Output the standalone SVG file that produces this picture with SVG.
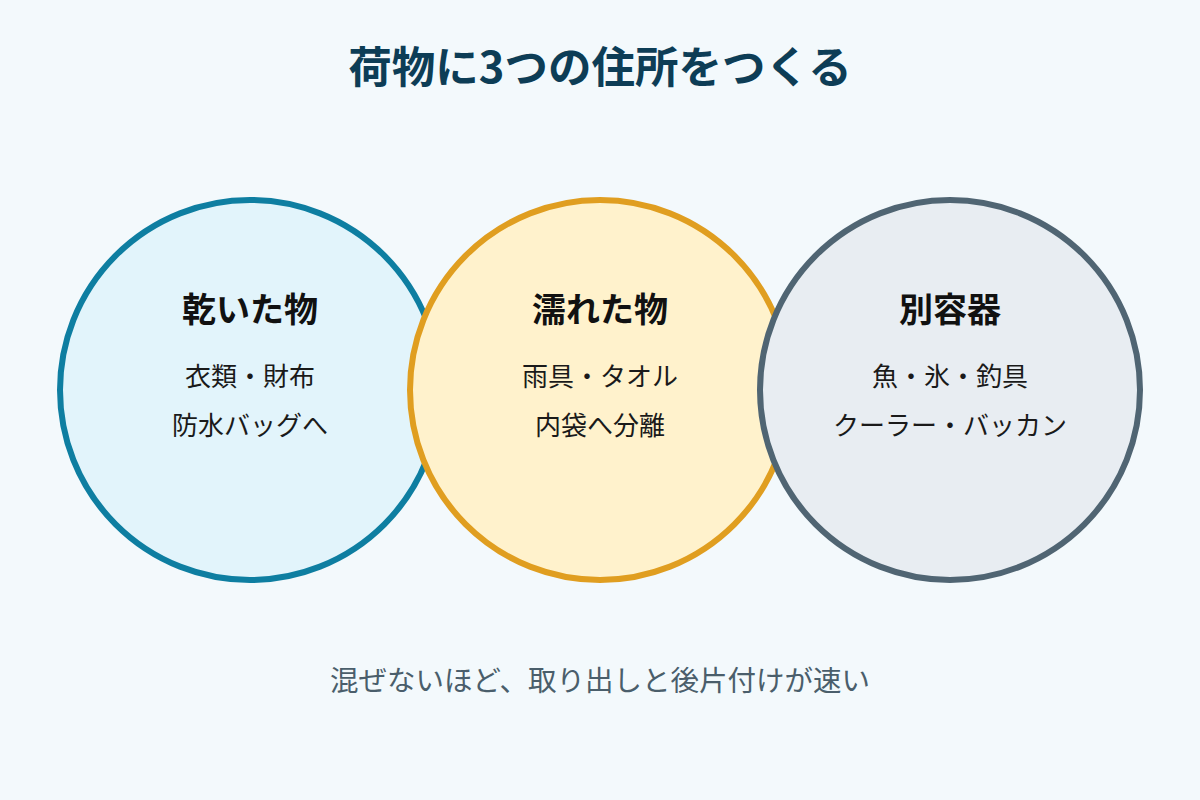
<svg xmlns="http://www.w3.org/2000/svg" width="1200" height="800" viewBox="0 0 1200 800">
<style>
text{font-family:"Noto Sans CJK JP","Noto Sans",sans-serif;text-anchor:middle}
.t{font-size:43.5px;font-weight:700;fill:#0d3d56}
.h{font-size:34px;font-weight:700;fill:#111}
.b{font-size:26px;fill:#1a1a1a}
.s{font-size:28.5px;fill:#4a5e6b}
.c{stroke-width:6}
</style>
<rect width="1200" height="800" fill="#f3f9fc"/>
<text class="t" x="600" y="83">荷物に3つの住所をつくる</text>
<g id="dry">
<circle class="c" cx="250" cy="390" r="190" fill="#e2f4fb" stroke="#0e7ea1"/>
<text class="h" x="250" y="322">乾いた物</text>
<text class="b" x="250" y="386">衣類・財布</text>
<text class="b" x="250" y="435">防水バッグへ</text>
</g>
<g id="wet">
<circle class="c" cx="600" cy="390" r="190" fill="#fff2cc" stroke="#e09e20"/>
<text class="h" x="600" y="322">濡れた物</text>
<text class="b" x="600" y="386">雨具・タオル</text>
<text class="b" x="600" y="435">内袋へ分離</text>
</g>
<g id="separate">
<circle class="c" cx="950" cy="390" r="190" fill="#e8edf2" stroke="#506573"/>
<text class="h" x="950" y="322">別容器</text>
<text class="b" x="950" y="386">魚・氷・釣具</text>
<text class="b" x="950" y="435">クーラー・バッカン</text>
</g>
<g id="connectors"></g>
<text class="s" x="600" y="691">混ぜないほど、取り出しと後片付けが速い</text>
</svg>
